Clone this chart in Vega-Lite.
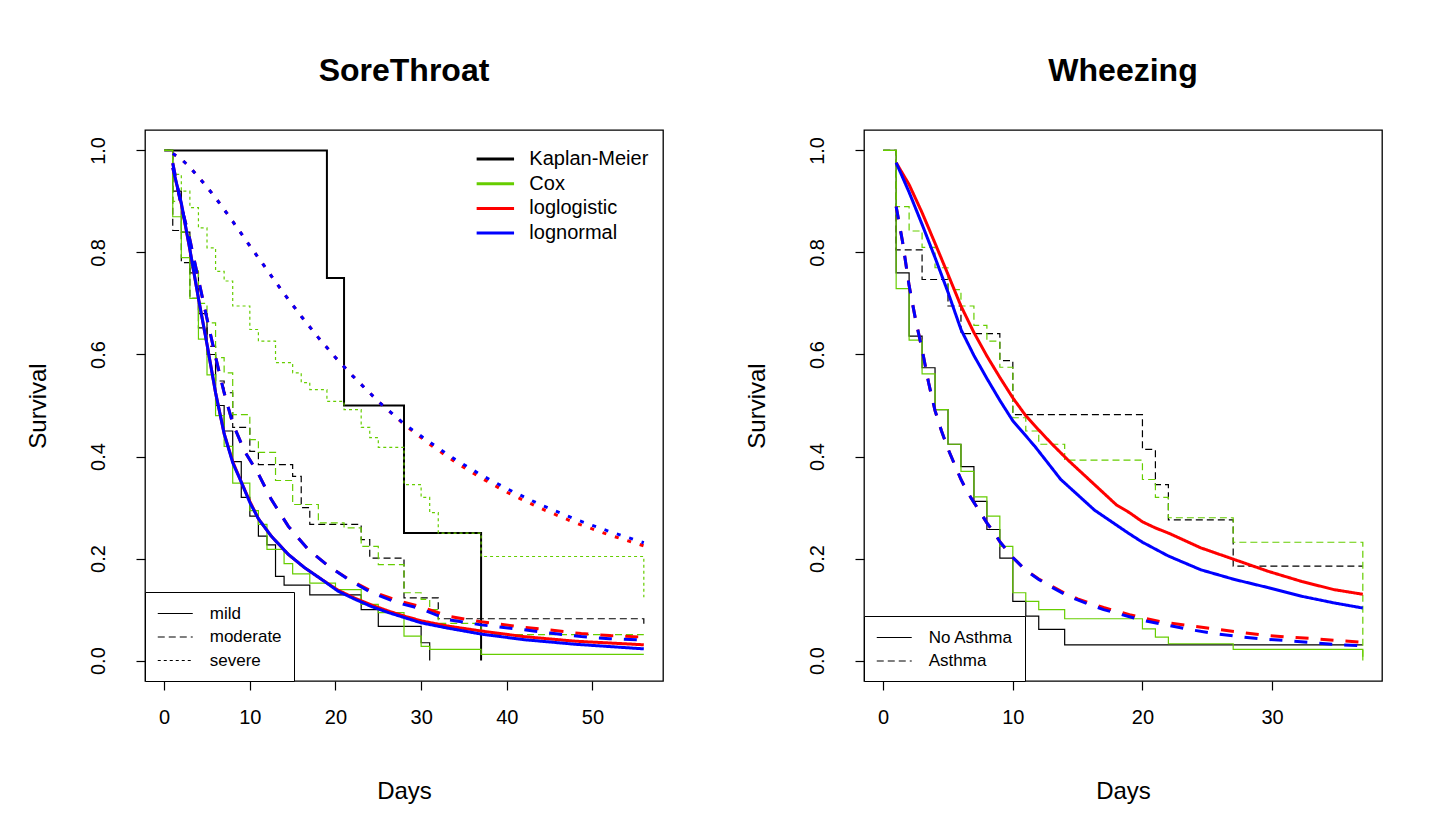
{
  "$schema": "https://vega.github.io/schema/vega-lite/v6.json",
  "autosize": {"type": "none"},
  "padding": {"left": 145, "top": 130, "right": 1298, "bottom": 708},
  "background": "white",
  "config": {
    "font": "Liberation Sans",
    "view": {"stroke": "black", "strokeWidth": 1.3},
    "axis": {"grid": false, "domain": false, "tickColor": "black", "tickSize": 9, "tickWidth": 1.2, "labelColor": "black", "labelFontSize": 20, "titleColor": "black", "titleFontSize": 24, "titleFontWeight": "normal", "labelFont": "Liberation Sans", "titleFont": "Liberation Sans", "labelOverlap": false, "labelFlush": false},
    "title": {"fontSize": 32, "fontWeight": "bold", "color": "black", "font": "Liberation Sans", "offset": 42, "baseline": "alphabetic", "anchor": "middle"},
    "legend": {"labelColor": "black", "labelFont": "Liberation Sans"}
  },
  "datasets": {
    "sore_steps": [
      {"model":"Kaplan-Meier","group":"mild","day":0,"surv":1},{"model":"Kaplan-Meier","group":"mild","day":1,"surv":0.92},{"model":"Kaplan-Meier","group":"mild","day":2,"surv":0.84},{"model":"Kaplan-Meier","group":"mild","day":3,"surv":0.76},{"model":"Kaplan-Meier","group":"mild","day":4,"surv":0.68},{"model":"Kaplan-Meier","group":"mild","day":5,"surv":0.6},{"model":"Kaplan-Meier","group":"mild","day":6,"surv":0.5},{"model":"Kaplan-Meier","group":"mild","day":7,"surv":0.45},{"model":"Kaplan-Meier","group":"mild","day":8,"surv":0.39},{"model":"Kaplan-Meier","group":"mild","day":9,"surv":0.32},{"model":"Kaplan-Meier","group":"mild","day":10,"surv":0.283},{"model":"Kaplan-Meier","group":"mild","day":11,"surv":0.244},{"model":"Kaplan-Meier","group":"mild","day":12,"surv":0.227},{"model":"Kaplan-Meier","group":"mild","day":13,"surv":0.165},{"model":"Kaplan-Meier","group":"mild","day":14,"surv":0.148},{"model":"Kaplan-Meier","group":"mild","day":17,"surv":0.129},{"model":"Kaplan-Meier","group":"mild","day":23,"surv":0.1},{"model":"Kaplan-Meier","group":"mild","day":25,"surv":0.067},{"model":"Kaplan-Meier","group":"mild","day":30,"surv":0.035},{"model":"Kaplan-Meier","group":"mild","day":31,"surv":0},
      {"model":"Kaplan-Meier","group":"moderate","day":0,"surv":1},{"model":"Kaplan-Meier","group":"moderate","day":1,"surv":0.843},{"model":"Kaplan-Meier","group":"moderate","day":2,"surv":0.78},{"model":"Kaplan-Meier","group":"moderate","day":3,"surv":0.71},{"model":"Kaplan-Meier","group":"moderate","day":4,"surv":0.652},{"model":"Kaplan-Meier","group":"moderate","day":5,"surv":0.616},{"model":"Kaplan-Meier","group":"moderate","day":6,"surv":0.548},{"model":"Kaplan-Meier","group":"moderate","day":7,"surv":0.525},{"model":"Kaplan-Meier","group":"moderate","day":8,"surv":0.457},{"model":"Kaplan-Meier","group":"moderate","day":10,"surv":0.41},{"model":"Kaplan-Meier","group":"moderate","day":11,"surv":0.384},{"model":"Kaplan-Meier","group":"moderate","day":15,"surv":0.361},{"model":"Kaplan-Meier","group":"moderate","day":16,"surv":0.3},{"model":"Kaplan-Meier","group":"moderate","day":17,"surv":0.267},{"model":"Kaplan-Meier","group":"moderate","day":23,"surv":0.237},{"model":"Kaplan-Meier","group":"moderate","day":24,"surv":0.201},{"model":"Kaplan-Meier","group":"moderate","day":28,"surv":0.123},{"model":"Kaplan-Meier","group":"moderate","day":32,"surv":0.082},{"model":"Kaplan-Meier","group":"moderate","day":56,"surv":0.065},
      {"model":"Kaplan-Meier","group":"severe","day":0,"surv":1},{"model":"Kaplan-Meier","group":"severe","day":19,"surv":0.75},{"model":"Kaplan-Meier","group":"severe","day":21,"surv":0.5},{"model":"Kaplan-Meier","group":"severe","day":28,"surv":0.25},{"model":"Kaplan-Meier","group":"severe","day":37,"surv":0},
      {"model":"Cox","group":"mild","day":0,"surv":1},{"model":"Cox","group":"mild","day":1,"surv":0.87},{"model":"Cox","group":"mild","day":2,"surv":0.79},{"model":"Cox","group":"mild","day":3,"surv":0.71},{"model":"Cox","group":"mild","day":4,"surv":0.63},{"model":"Cox","group":"mild","day":5,"surv":0.56},{"model":"Cox","group":"mild","day":6,"surv":0.48},{"model":"Cox","group":"mild","day":7,"surv":0.42},{"model":"Cox","group":"mild","day":8,"surv":0.348},{"model":"Cox","group":"mild","day":10,"surv":0.294},{"model":"Cox","group":"mild","day":11,"surv":0.267},{"model":"Cox","group":"mild","day":12,"surv":0.218},{"model":"Cox","group":"mild","day":14,"surv":0.19},{"model":"Cox","group":"mild","day":15,"surv":0.17},{"model":"Cox","group":"mild","day":17,"surv":0.152},{"model":"Cox","group":"mild","day":20,"surv":0.139},{"model":"Cox","group":"mild","day":23,"surv":0.11},{"model":"Cox","group":"mild","day":25,"surv":0.094},{"model":"Cox","group":"mild","day":28,"surv":0.048},{"model":"Cox","group":"mild","day":30,"surv":0.028},{"model":"Cox","group":"mild","day":31,"surv":0.022},{"model":"Cox","group":"mild","day":37,"surv":0.012},{"model":"Cox","group":"mild","day":56,"surv":0.012},
      {"model":"Cox","group":"moderate","day":0,"surv":1},{"model":"Cox","group":"moderate","day":1,"surv":0.9},{"model":"Cox","group":"moderate","day":2,"surv":0.84},{"model":"Cox","group":"moderate","day":3,"surv":0.77},{"model":"Cox","group":"moderate","day":4,"surv":0.7},{"model":"Cox","group":"moderate","day":5,"surv":0.662},{"model":"Cox","group":"moderate","day":6,"surv":0.594},{"model":"Cox","group":"moderate","day":7,"surv":0.564},{"model":"Cox","group":"moderate","day":8,"surv":0.482},{"model":"Cox","group":"moderate","day":10,"surv":0.433},{"model":"Cox","group":"moderate","day":11,"surv":0.408},{"model":"Cox","group":"moderate","day":13,"surv":0.353},{"model":"Cox","group":"moderate","day":15,"surv":0.306},{"model":"Cox","group":"moderate","day":18,"surv":0.27},{"model":"Cox","group":"moderate","day":21,"surv":0.26},{"model":"Cox","group":"moderate","day":23,"surv":0.224},{"model":"Cox","group":"moderate","day":25,"surv":0.188},{"model":"Cox","group":"moderate","day":28,"surv":0.133},{"model":"Cox","group":"moderate","day":30,"surv":0.12},{"model":"Cox","group":"moderate","day":31,"surv":0.1},{"model":"Cox","group":"moderate","day":32,"surv":0.073},{"model":"Cox","group":"moderate","day":37,"surv":0.051},{"model":"Cox","group":"moderate","day":56,"surv":0.051},
      {"model":"Cox","group":"severe","day":0,"surv":1},{"model":"Cox","group":"severe","day":1,"surv":0.953},{"model":"Cox","group":"severe","day":2,"surv":0.92},{"model":"Cox","group":"severe","day":3,"surv":0.888},{"model":"Cox","group":"severe","day":4,"surv":0.848},{"model":"Cox","group":"severe","day":5,"surv":0.809},{"model":"Cox","group":"severe","day":6,"surv":0.763},{"model":"Cox","group":"severe","day":7,"surv":0.744},{"model":"Cox","group":"severe","day":8,"surv":0.695},{"model":"Cox","group":"severe","day":10,"surv":0.649},{"model":"Cox","group":"severe","day":11,"surv":0.626},{"model":"Cox","group":"severe","day":13,"surv":0.584},{"model":"Cox","group":"severe","day":15,"surv":0.564},{"model":"Cox","group":"severe","day":16,"surv":0.545},{"model":"Cox","group":"severe","day":17,"surv":0.531},{"model":"Cox","group":"severe","day":19,"surv":0.508},{"model":"Cox","group":"severe","day":21,"surv":0.492},{"model":"Cox","group":"severe","day":23,"surv":0.457},{"model":"Cox","group":"severe","day":24,"surv":0.437},{"model":"Cox","group":"severe","day":25,"surv":0.418},{"model":"Cox","group":"severe","day":28,"surv":0.345},{"model":"Cox","group":"severe","day":30,"surv":0.32},{"model":"Cox","group":"severe","day":31,"surv":0.29},{"model":"Cox","group":"severe","day":32,"surv":0.25},{"model":"Cox","group":"severe","day":37,"surv":0.204},{"model":"Cox","group":"severe","day":56,"surv":0.124}
    ],
    "sore_fits": [
      {"model":"loglogistic","group":"mild","day":1,"surv":0.966},{"model":"loglogistic","group":"mild","day":2,"surv":0.895},{"model":"loglogistic","group":"mild","day":3,"surv":0.805},{"model":"loglogistic","group":"mild","day":4,"surv":0.71},{"model":"loglogistic","group":"mild","day":5,"surv":0.62},{"model":"loglogistic","group":"mild","day":6,"surv":0.525},{"model":"loglogistic","group":"mild","day":7,"surv":0.445},{"model":"loglogistic","group":"mild","day":8,"surv":0.39},{"model":"loglogistic","group":"mild","day":9,"surv":0.35},{"model":"loglogistic","group":"mild","day":10,"surv":0.312},{"model":"loglogistic","group":"mild","day":11,"surv":0.278},{"model":"loglogistic","group":"mild","day":12.5,"surv":0.244},{"model":"loglogistic","group":"mild","day":14.5,"surv":0.208},{"model":"loglogistic","group":"mild","day":16.4,"surv":0.182},{"model":"loglogistic","group":"mild","day":18.4,"surv":0.159},{"model":"loglogistic","group":"mild","day":20.3,"surv":0.138},{"model":"loglogistic","group":"mild","day":22.3,"surv":0.122},{"model":"loglogistic","group":"mild","day":24.2,"surv":0.109},{"model":"loglogistic","group":"mild","day":26.2,"surv":0.097},{"model":"loglogistic","group":"mild","day":28.1,"surv":0.087},{"model":"loglogistic","group":"mild","day":30,"surv":0.078},{"model":"loglogistic","group":"mild","day":33,"surv":0.068},{"model":"loglogistic","group":"mild","day":37,"surv":0.058},{"model":"loglogistic","group":"mild","day":42,"surv":0.047},{"model":"loglogistic","group":"mild","day":48,"surv":0.038},{"model":"loglogistic","group":"mild","day":56,"surv":0.031},
      {"model":"loglogistic","group":"moderate","day":1,"surv":0.975},{"model":"loglogistic","group":"moderate","day":2,"surv":0.89},{"model":"loglogistic","group":"moderate","day":3,"surv":0.825},{"model":"loglogistic","group":"moderate","day":4,"surv":0.747},{"model":"loglogistic","group":"moderate","day":5,"surv":0.67},{"model":"loglogistic","group":"moderate","day":6,"surv":0.595},{"model":"loglogistic","group":"moderate","day":7,"surv":0.525},{"model":"loglogistic","group":"moderate","day":8,"surv":0.465},{"model":"loglogistic","group":"moderate","day":9.4,"surv":0.41},{"model":"loglogistic","group":"moderate","day":11,"surv":0.366},{"model":"loglogistic","group":"moderate","day":12.5,"surv":0.316},{"model":"loglogistic","group":"moderate","day":14.5,"surv":0.263},{"model":"loglogistic","group":"moderate","day":16.8,"surv":0.218},{"model":"loglogistic","group":"moderate","day":19.2,"surv":0.185},{"model":"loglogistic","group":"moderate","day":21.5,"surv":0.16},{"model":"loglogistic","group":"moderate","day":24.2,"surv":0.136},{"model":"loglogistic","group":"moderate","day":27.3,"surv":0.117},{"model":"loglogistic","group":"moderate","day":29.7,"surv":0.107},{"model":"loglogistic","group":"moderate","day":33.2,"surv":0.087},{"model":"loglogistic","group":"moderate","day":37,"surv":0.076},{"model":"loglogistic","group":"moderate","day":41.7,"surv":0.066},{"model":"loglogistic","group":"moderate","day":45,"surv":0.06},{"model":"loglogistic","group":"moderate","day":48.7,"surv":0.053},{"model":"loglogistic","group":"moderate","day":52,"surv":0.049},{"model":"loglogistic","group":"moderate","day":56,"surv":0.046},
      {"model":"loglogistic","group":"severe","day":1,"surv":0.994},{"model":"loglogistic","group":"severe","day":2,"surv":0.983},{"model":"loglogistic","group":"severe","day":3,"surv":0.967},{"model":"loglogistic","group":"severe","day":4,"surv":0.948},{"model":"loglogistic","group":"severe","day":5,"surv":0.928},{"model":"loglogistic","group":"severe","day":6,"surv":0.907},{"model":"loglogistic","group":"severe","day":8,"surv":0.861},{"model":"loglogistic","group":"severe","day":10,"surv":0.813},{"model":"loglogistic","group":"severe","day":12,"surv":0.766},{"model":"loglogistic","group":"severe","day":14,"surv":0.719},{"model":"loglogistic","group":"severe","day":16,"surv":0.675},{"model":"loglogistic","group":"severe","day":18,"surv":0.633},{"model":"loglogistic","group":"severe","day":20,"surv":0.594},{"model":"loglogistic","group":"severe","day":22,"surv":0.558},{"model":"loglogistic","group":"severe","day":25,"surv":0.508},{"model":"loglogistic","group":"severe","day":28,"surv":0.463},{"model":"loglogistic","group":"severe","day":31,"surv":0.424},{"model":"loglogistic","group":"severe","day":34,"surv":0.389},{"model":"loglogistic","group":"severe","day":37,"surv":0.358},{"model":"loglogistic","group":"severe","day":40,"surv":0.33},{"model":"loglogistic","group":"severe","day":44,"surv":0.298},{"model":"loglogistic","group":"severe","day":48,"surv":0.27},{"model":"loglogistic","group":"severe","day":52,"surv":0.246},{"model":"loglogistic","group":"severe","day":56,"surv":0.225},
      {"model":"lognormal","group":"mild","day":1,"surv":0.966},{"model":"lognormal","group":"mild","day":2,"surv":0.897},{"model":"lognormal","group":"mild","day":3,"surv":0.806},{"model":"lognormal","group":"mild","day":4,"surv":0.71},{"model":"lognormal","group":"mild","day":5,"surv":0.62},{"model":"lognormal","group":"mild","day":6,"surv":0.525},{"model":"lognormal","group":"mild","day":7,"surv":0.445},{"model":"lognormal","group":"mild","day":8,"surv":0.388},{"model":"lognormal","group":"mild","day":9,"surv":0.35},{"model":"lognormal","group":"mild","day":10,"surv":0.31},{"model":"lognormal","group":"mild","day":11,"surv":0.278},{"model":"lognormal","group":"mild","day":12.5,"surv":0.244},{"model":"lognormal","group":"mild","day":14.5,"surv":0.208},{"model":"lognormal","group":"mild","day":16.4,"surv":0.182},{"model":"lognormal","group":"mild","day":18.4,"surv":0.159},{"model":"lognormal","group":"mild","day":20.3,"surv":0.136},{"model":"lognormal","group":"mild","day":22.3,"surv":0.12},{"model":"lognormal","group":"mild","day":24.2,"surv":0.106},{"model":"lognormal","group":"mild","day":26.2,"surv":0.094},{"model":"lognormal","group":"mild","day":28.1,"surv":0.084},{"model":"lognormal","group":"mild","day":30,"surv":0.074},{"model":"lognormal","group":"mild","day":33,"surv":0.064},{"model":"lognormal","group":"mild","day":37,"surv":0.052},{"model":"lognormal","group":"mild","day":42,"surv":0.041},{"model":"lognormal","group":"mild","day":48,"surv":0.032},{"model":"lognormal","group":"mild","day":56,"surv":0.023},
      {"model":"lognormal","group":"moderate","day":1,"surv":0.975},{"model":"lognormal","group":"moderate","day":2,"surv":0.89},{"model":"lognormal","group":"moderate","day":3,"surv":0.825},{"model":"lognormal","group":"moderate","day":4,"surv":0.747},{"model":"lognormal","group":"moderate","day":5,"surv":0.67},{"model":"lognormal","group":"moderate","day":6,"surv":0.595},{"model":"lognormal","group":"moderate","day":7,"surv":0.525},{"model":"lognormal","group":"moderate","day":8,"surv":0.465},{"model":"lognormal","group":"moderate","day":9.4,"surv":0.41},{"model":"lognormal","group":"moderate","day":11,"surv":0.366},{"model":"lognormal","group":"moderate","day":12.5,"surv":0.316},{"model":"lognormal","group":"moderate","day":14.5,"surv":0.263},{"model":"lognormal","group":"moderate","day":16.8,"surv":0.218},{"model":"lognormal","group":"moderate","day":19.2,"surv":0.185},{"model":"lognormal","group":"moderate","day":21.5,"surv":0.159},{"model":"lognormal","group":"moderate","day":24.2,"surv":0.133},{"model":"lognormal","group":"moderate","day":27.3,"surv":0.113},{"model":"lognormal","group":"moderate","day":29.7,"surv":0.103},{"model":"lognormal","group":"moderate","day":33.2,"surv":0.08},{"model":"lognormal","group":"moderate","day":37,"surv":0.07},{"model":"lognormal","group":"moderate","day":41.7,"surv":0.061},{"model":"lognormal","group":"moderate","day":45,"surv":0.054},{"model":"lognormal","group":"moderate","day":48.7,"surv":0.047},{"model":"lognormal","group":"moderate","day":52,"surv":0.043},{"model":"lognormal","group":"moderate","day":56,"surv":0.04},
      {"model":"lognormal","group":"severe","day":1,"surv":0.994},{"model":"lognormal","group":"severe","day":2,"surv":0.983},{"model":"lognormal","group":"severe","day":3,"surv":0.967},{"model":"lognormal","group":"severe","day":4,"surv":0.948},{"model":"lognormal","group":"severe","day":5,"surv":0.928},{"model":"lognormal","group":"severe","day":6,"surv":0.907},{"model":"lognormal","group":"severe","day":8,"surv":0.861},{"model":"lognormal","group":"severe","day":10,"surv":0.813},{"model":"lognormal","group":"severe","day":12,"surv":0.766},{"model":"lognormal","group":"severe","day":14,"surv":0.719},{"model":"lognormal","group":"severe","day":16,"surv":0.675},{"model":"lognormal","group":"severe","day":18,"surv":0.633},{"model":"lognormal","group":"severe","day":20,"surv":0.594},{"model":"lognormal","group":"severe","day":22,"surv":0.558},{"model":"lognormal","group":"severe","day":25,"surv":0.508},{"model":"lognormal","group":"severe","day":28,"surv":0.464},{"model":"lognormal","group":"severe","day":31,"surv":0.428},{"model":"lognormal","group":"severe","day":34,"surv":0.394},{"model":"lognormal","group":"severe","day":37,"surv":0.364},{"model":"lognormal","group":"severe","day":40,"surv":0.337},{"model":"lognormal","group":"severe","day":44,"surv":0.305},{"model":"lognormal","group":"severe","day":48,"surv":0.277},{"model":"lognormal","group":"severe","day":52,"surv":0.253},{"model":"lognormal","group":"severe","day":56,"surv":0.231}
    ],
    "wheeze_steps": [
      {"model":"Kaplan-Meier","group":"No Asthma","day":0,"surv":1},{"model":"Kaplan-Meier","group":"No Asthma","day":1,"surv":0.76},{"model":"Kaplan-Meier","group":"No Asthma","day":2,"surv":0.636},{"model":"Kaplan-Meier","group":"No Asthma","day":3,"surv":0.574},{"model":"Kaplan-Meier","group":"No Asthma","day":4,"surv":0.492},{"model":"Kaplan-Meier","group":"No Asthma","day":5,"surv":0.424},{"model":"Kaplan-Meier","group":"No Asthma","day":6,"surv":0.38},{"model":"Kaplan-Meier","group":"No Asthma","day":7,"surv":0.312},{"model":"Kaplan-Meier","group":"No Asthma","day":8,"surv":0.257},{"model":"Kaplan-Meier","group":"No Asthma","day":9,"surv":0.201},{"model":"Kaplan-Meier","group":"No Asthma","day":10,"surv":0.116},{"model":"Kaplan-Meier","group":"No Asthma","day":11,"surv":0.087},{"model":"Kaplan-Meier","group":"No Asthma","day":12,"surv":0.061},{"model":"Kaplan-Meier","group":"No Asthma","day":14,"surv":0.031},{"model":"Kaplan-Meier","group":"No Asthma","day":37,"surv":0.031},
      {"model":"Kaplan-Meier","group":"Asthma","day":0,"surv":1},{"model":"Kaplan-Meier","group":"Asthma","day":1,"surv":0.805},{"model":"Kaplan-Meier","group":"Asthma","day":3,"surv":0.747},{"model":"Kaplan-Meier","group":"Asthma","day":5,"surv":0.695},{"model":"Kaplan-Meier","group":"Asthma","day":6,"surv":0.641},{"model":"Kaplan-Meier","group":"Asthma","day":9,"surv":0.588},{"model":"Kaplan-Meier","group":"Asthma","day":10,"surv":0.482},{"model":"Kaplan-Meier","group":"Asthma","day":20,"surv":0.414},{"model":"Kaplan-Meier","group":"Asthma","day":21,"surv":0.345},{"model":"Kaplan-Meier","group":"Asthma","day":22,"surv":0.276},{"model":"Kaplan-Meier","group":"Asthma","day":27,"surv":0.185},{"model":"Kaplan-Meier","group":"Asthma","day":37,"surv":0.185},
      {"model":"Cox","group":"No Asthma","day":0,"surv":1},{"model":"Cox","group":"No Asthma","day":1,"surv":0.729},{"model":"Cox","group":"No Asthma","day":2,"surv":0.628},{"model":"Cox","group":"No Asthma","day":3,"surv":0.562},{"model":"Cox","group":"No Asthma","day":4,"surv":0.492},{"model":"Cox","group":"No Asthma","day":5,"surv":0.424},{"model":"Cox","group":"No Asthma","day":6,"surv":0.371},{"model":"Cox","group":"No Asthma","day":7,"surv":0.321},{"model":"Cox","group":"No Asthma","day":8,"surv":0.283},{"model":"Cox","group":"No Asthma","day":9,"surv":0.224},{"model":"Cox","group":"No Asthma","day":10,"surv":0.133},{"model":"Cox","group":"No Asthma","day":11,"surv":0.116},{"model":"Cox","group":"No Asthma","day":12,"surv":0.1},{"model":"Cox","group":"No Asthma","day":14,"surv":0.082},{"model":"Cox","group":"No Asthma","day":20,"surv":0.062},{"model":"Cox","group":"No Asthma","day":21,"surv":0.046},{"model":"Cox","group":"No Asthma","day":22,"surv":0.033},{"model":"Cox","group":"No Asthma","day":27,"surv":0.022},{"model":"Cox","group":"No Asthma","day":37,"surv":0},
      {"model":"Cox","group":"Asthma","day":0,"surv":1},{"model":"Cox","group":"Asthma","day":1,"surv":0.89},{"model":"Cox","group":"Asthma","day":2,"surv":0.842},{"model":"Cox","group":"Asthma","day":3,"surv":0.81},{"model":"Cox","group":"Asthma","day":4,"surv":0.77},{"model":"Cox","group":"Asthma","day":5,"surv":0.727},{"model":"Cox","group":"Asthma","day":6,"surv":0.695},{"model":"Cox","group":"Asthma","day":7,"surv":0.657},{"model":"Cox","group":"Asthma","day":8,"surv":0.626},{"model":"Cox","group":"Asthma","day":9,"surv":0.575},{"model":"Cox","group":"Asthma","day":10,"surv":0.476},{"model":"Cox","group":"Asthma","day":11,"surv":0.45},{"model":"Cox","group":"Asthma","day":12,"surv":0.424},{"model":"Cox","group":"Asthma","day":14,"surv":0.393},{"model":"Cox","group":"Asthma","day":20,"surv":0.355},{"model":"Cox","group":"Asthma","day":21,"surv":0.32},{"model":"Cox","group":"Asthma","day":22,"surv":0.28},{"model":"Cox","group":"Asthma","day":27,"surv":0.232},{"model":"Cox","group":"Asthma","day":37,"surv":0}
    ],
    "wheeze_fits": [
      {"model":"loglogistic","group":"No Asthma","day":1,"surv":0.976},{"model":"loglogistic","group":"No Asthma","day":2,"surv":0.933},{"model":"loglogistic","group":"No Asthma","day":3,"surv":0.878},{"model":"loglogistic","group":"No Asthma","day":4,"surv":0.818},{"model":"loglogistic","group":"No Asthma","day":5,"surv":0.757},{"model":"loglogistic","group":"No Asthma","day":6,"surv":0.695},{"model":"loglogistic","group":"No Asthma","day":7,"surv":0.643},{"model":"loglogistic","group":"No Asthma","day":8,"surv":0.597},{"model":"loglogistic","group":"No Asthma","day":9,"surv":0.555},{"model":"loglogistic","group":"No Asthma","day":10,"surv":0.515},{"model":"loglogistic","group":"No Asthma","day":11,"surv":0.48},{"model":"loglogistic","group":"No Asthma","day":12,"surv":0.452},{"model":"loglogistic","group":"No Asthma","day":13,"surv":0.425},{"model":"loglogistic","group":"No Asthma","day":14.3,"surv":0.392},{"model":"loglogistic","group":"No Asthma","day":16.3,"surv":0.345},{"model":"loglogistic","group":"No Asthma","day":18,"surv":0.305},{"model":"loglogistic","group":"No Asthma","day":19,"surv":0.29},{"model":"loglogistic","group":"No Asthma","day":20,"surv":0.272},{"model":"loglogistic","group":"No Asthma","day":21,"surv":0.26},{"model":"loglogistic","group":"No Asthma","day":22,"surv":0.25},{"model":"loglogistic","group":"No Asthma","day":24.5,"surv":0.221},{"model":"loglogistic","group":"No Asthma","day":27.1,"surv":0.198},{"model":"loglogistic","group":"No Asthma","day":29.7,"surv":0.175},{"model":"loglogistic","group":"No Asthma","day":32.3,"surv":0.155},{"model":"loglogistic","group":"No Asthma","day":34.8,"surv":0.139},{"model":"loglogistic","group":"No Asthma","day":37,"surv":0.13},
      {"model":"loglogistic","group":"Asthma","day":1,"surv":0.89},{"model":"loglogistic","group":"Asthma","day":1.5,"surv":0.82},{"model":"loglogistic","group":"Asthma","day":2,"surv":0.735},{"model":"loglogistic","group":"Asthma","day":2.5,"surv":0.668},{"model":"loglogistic","group":"Asthma","day":3,"surv":0.61},{"model":"loglogistic","group":"Asthma","day":3.5,"surv":0.545},{"model":"loglogistic","group":"Asthma","day":4,"surv":0.49},{"model":"loglogistic","group":"Asthma","day":4.5,"surv":0.45},{"model":"loglogistic","group":"Asthma","day":5,"surv":0.415},{"model":"loglogistic","group":"Asthma","day":5.5,"surv":0.385},{"model":"loglogistic","group":"Asthma","day":6,"surv":0.355},{"model":"loglogistic","group":"Asthma","day":6.5,"surv":0.33},{"model":"loglogistic","group":"Asthma","day":7,"surv":0.31},{"model":"loglogistic","group":"Asthma","day":7.5,"surv":0.29},{"model":"loglogistic","group":"Asthma","day":8,"surv":0.27},{"model":"loglogistic","group":"Asthma","day":8.7,"surv":0.245},{"model":"loglogistic","group":"Asthma","day":9,"surv":0.233},{"model":"loglogistic","group":"Asthma","day":10,"surv":0.202},{"model":"loglogistic","group":"Asthma","day":11,"surv":0.177},{"model":"loglogistic","group":"Asthma","day":12,"surv":0.16},{"model":"loglogistic","group":"Asthma","day":13,"surv":0.146},{"model":"loglogistic","group":"Asthma","day":14,"surv":0.132},{"model":"loglogistic","group":"Asthma","day":15,"surv":0.121},{"model":"loglogistic","group":"Asthma","day":16,"surv":0.112},{"model":"loglogistic","group":"Asthma","day":17,"surv":0.104},{"model":"loglogistic","group":"Asthma","day":18,"surv":0.097},{"model":"loglogistic","group":"Asthma","day":19,"surv":0.09},{"model":"loglogistic","group":"Asthma","day":20,"surv":0.084},{"model":"loglogistic","group":"Asthma","day":21.4,"surv":0.076},{"model":"loglogistic","group":"Asthma","day":23.4,"surv":0.069},{"model":"loglogistic","group":"Asthma","day":25.3,"surv":0.063},{"model":"loglogistic","group":"Asthma","day":27.4,"surv":0.056},{"model":"loglogistic","group":"Asthma","day":29.3,"surv":0.05},{"model":"loglogistic","group":"Asthma","day":31.3,"surv":0.046},{"model":"loglogistic","group":"Asthma","day":33.2,"surv":0.043},{"model":"loglogistic","group":"Asthma","day":35.2,"surv":0.039},{"model":"loglogistic","group":"Asthma","day":37,"surv":0.036},
      {"model":"lognormal","group":"No Asthma","day":1,"surv":0.976},{"model":"lognormal","group":"No Asthma","day":2,"surv":0.918},{"model":"lognormal","group":"No Asthma","day":3,"surv":0.855},{"model":"lognormal","group":"No Asthma","day":4,"surv":0.79},{"model":"lognormal","group":"No Asthma","day":5,"surv":0.722},{"model":"lognormal","group":"No Asthma","day":6,"surv":0.649},{"model":"lognormal","group":"No Asthma","day":7,"surv":0.598},{"model":"lognormal","group":"No Asthma","day":8,"surv":0.553},{"model":"lognormal","group":"No Asthma","day":9,"surv":0.51},{"model":"lognormal","group":"No Asthma","day":10,"surv":0.47},{"model":"lognormal","group":"No Asthma","day":11.7,"surv":0.42},{"model":"lognormal","group":"No Asthma","day":13.7,"surv":0.355},{"model":"lognormal","group":"No Asthma","day":16.3,"surv":0.295},{"model":"lognormal","group":"No Asthma","day":18.9,"surv":0.25},{"model":"lognormal","group":"No Asthma","day":20,"surv":0.232},{"model":"lognormal","group":"No Asthma","day":22,"surv":0.205},{"model":"lognormal","group":"No Asthma","day":24.5,"surv":0.178},{"model":"lognormal","group":"No Asthma","day":27.1,"surv":0.159},{"model":"lognormal","group":"No Asthma","day":29.7,"surv":0.143},{"model":"lognormal","group":"No Asthma","day":32.3,"surv":0.126},{"model":"lognormal","group":"No Asthma","day":34.8,"surv":0.113},{"model":"lognormal","group":"No Asthma","day":37,"surv":0.103},
      {"model":"lognormal","group":"Asthma","day":1,"surv":0.89},{"model":"lognormal","group":"Asthma","day":1.5,"surv":0.82},{"model":"lognormal","group":"Asthma","day":2,"surv":0.735},{"model":"lognormal","group":"Asthma","day":2.5,"surv":0.668},{"model":"lognormal","group":"Asthma","day":3,"surv":0.61},{"model":"lognormal","group":"Asthma","day":3.5,"surv":0.545},{"model":"lognormal","group":"Asthma","day":4,"surv":0.49},{"model":"lognormal","group":"Asthma","day":4.5,"surv":0.45},{"model":"lognormal","group":"Asthma","day":5,"surv":0.415},{"model":"lognormal","group":"Asthma","day":5.5,"surv":0.385},{"model":"lognormal","group":"Asthma","day":6,"surv":0.355},{"model":"lognormal","group":"Asthma","day":6.5,"surv":0.33},{"model":"lognormal","group":"Asthma","day":7,"surv":0.31},{"model":"lognormal","group":"Asthma","day":7.5,"surv":0.29},{"model":"lognormal","group":"Asthma","day":8,"surv":0.27},{"model":"lognormal","group":"Asthma","day":8.7,"surv":0.245},{"model":"lognormal","group":"Asthma","day":9,"surv":0.233},{"model":"lognormal","group":"Asthma","day":10,"surv":0.202},{"model":"lognormal","group":"Asthma","day":11,"surv":0.177},{"model":"lognormal","group":"Asthma","day":12,"surv":0.159},{"model":"lognormal","group":"Asthma","day":13,"surv":0.144},{"model":"lognormal","group":"Asthma","day":14,"surv":0.13},{"model":"lognormal","group":"Asthma","day":15,"surv":0.119},{"model":"lognormal","group":"Asthma","day":16,"surv":0.109},{"model":"lognormal","group":"Asthma","day":17,"surv":0.1},{"model":"lognormal","group":"Asthma","day":18,"surv":0.093},{"model":"lognormal","group":"Asthma","day":19,"surv":0.086},{"model":"lognormal","group":"Asthma","day":20,"surv":0.079},{"model":"lognormal","group":"Asthma","day":21.4,"surv":0.072},{"model":"lognormal","group":"Asthma","day":23.4,"surv":0.062},{"model":"lognormal","group":"Asthma","day":25.3,"surv":0.054},{"model":"lognormal","group":"Asthma","day":27.4,"surv":0.047},{"model":"lognormal","group":"Asthma","day":29.3,"surv":0.042},{"model":"lognormal","group":"Asthma","day":31.3,"surv":0.039},{"model":"lognormal","group":"Asthma","day":33.2,"surv":0.035},{"model":"lognormal","group":"Asthma","day":35.2,"surv":0.031},{"model":"lognormal","group":"Asthma","day":37,"surv":0.029}
    ]
  },
  "hconcat": [
    {
      "width": 518,
      "height": 551,
      "title": {"text": "SoreThroat"},
      "layer": [
        {
          "data": {"name": "sore_steps"},
          "mark": {"type": "line", "interpolate": "step-after", "strokeCap": "butt"},
          "encoding": {
            "x": {"field": "day", "type": "quantitative", "scale": {"domain": [-2.24, 58.24], "nice": false, "zero": false}, "axis": {"values": [0, 10, 20, 30, 40, 50], "title": "Days", "labelPadding": 17, "titlePadding": 52}},
            "y": {"field": "surv", "type": "quantitative", "scale": {"domain": [-0.04, 1.04], "nice": false, "zero": false}, "axis": {"values": [0, 0.2, 0.4, 0.6, 0.8, 1], "format": ".1f", "title": "Survival", "labelAngle": 270, "labelAlign": "center", "labelBaseline": "alphabetic", "labelPadding": 32, "titlePadding": 38}},
            "color": {"field": "model", "type": "nominal", "scale": {"domain": ["Kaplan-Meier", "Cox", "loglogistic", "lognormal"], "range": ["black", "#66CD00", "red", "blue"]}, "legend": {"title": null, "orient": "none", "legendX": 330, "legendY": 18, "symbolType": "M-2,0H2", "symbolSize": 350, "symbolOffset": 9.35, "symbolStrokeWidth": 3, "labelFontSize": 20, "labelOffset": 23, "rowPadding": 3.7, "padding": 0, "labelLimit": 300}},
            "strokeDash": {"condition": {"test": "datum.model === 'Kaplan-Meier' && datum.group === 'severe'", "value": [1, 0]}, "field": "group", "type": "nominal", "scale": {"domain": ["mild", "moderate", "severe"], "range": [[1, 0], [7, 4], [3, 3]]}, "legend": {"title": null, "orient": "bottom-left", "offset": 0, "symbolType": "M-2,0H2", "symbolSize": 306, "symbolOffset": 8.75, "symbolStrokeWidth": 1.2, "symbolStrokeColor": "black", "labelFontSize": 17, "labelOffset": 25, "rowPadding": 5.5, "padding": 12, "strokeColor": "black", "fillColor": "white"}},
            "strokeWidth": {"condition": {"test": "datum.model === 'Kaplan-Meier' && datum.group === 'severe'", "value": 2}, "value": 1.2}
          }
        },
        {
          "data": {"name": "sore_fits"},
          "transform": [{"filter": "datum.model === 'loglogistic'"}],
          "mark": {"type": "line", "strokeWidth": 3, "strokeCap": "butt"},
          "encoding": {
            "x": {"field": "day", "type": "quantitative"},
            "y": {"field": "surv", "type": "quantitative"},
            "color": {"field": "model", "type": "nominal"},
            "strokeDash": {"field": "group", "type": "nominal", "scale": {"domain": ["mild", "moderate", "severe"], "range": [[1, 0], [13, 12], [4, 9]]}, "legend": null}
          }
        },
        {
          "data": {"name": "sore_fits"},
          "transform": [{"filter": "datum.model === 'lognormal'"}],
          "mark": {"type": "line", "strokeWidth": 3, "strokeCap": "butt"},
          "encoding": {
            "x": {"field": "day", "type": "quantitative"},
            "y": {"field": "surv", "type": "quantitative"},
            "color": {"field": "model", "type": "nominal"},
            "strokeDash": {"field": "group", "type": "nominal", "scale": {"domain": ["mild", "moderate", "severe"], "range": [[1, 0], [13, 12], [4, 9]]}, "legend": null}
          }
        }
      ],
      "resolve": {"scale": {"strokeDash": "independent"}}
    },
    {
      "width": 518,
      "height": 551,
      "title": {"text": "Wheezing"},
      "layer": [
        {
          "data": {"name": "wheeze_steps"},
          "mark": {"type": "line", "interpolate": "step-after", "strokeWidth": 1.2, "strokeCap": "butt"},
          "encoding": {
            "x": {"field": "day", "type": "quantitative", "scale": {"domain": [-1.48, 38.48], "nice": false, "zero": false}, "axis": {"values": [0, 10, 20, 30], "title": "Days", "labelPadding": 17, "titlePadding": 52}},
            "y": {"field": "surv", "type": "quantitative", "scale": {"domain": [-0.04, 1.04], "nice": false, "zero": false}, "axis": {"values": [0, 0.2, 0.4, 0.6, 0.8, 1], "format": ".1f", "title": "Survival", "labelAngle": 270, "labelAlign": "center", "labelBaseline": "alphabetic", "labelPadding": 32, "titlePadding": 38}},
            "color": {"field": "model", "type": "nominal", "scale": {"domain": ["Kaplan-Meier", "Cox", "loglogistic", "lognormal"], "range": ["black", "#66CD00", "red", "blue"]}, "legend": {"title": null, "orient": "none", "legendX": 331, "legendY": 18, "symbolType": "M-2,0H2", "symbolSize": 350, "symbolOffset": 9.35, "symbolStrokeWidth": 3, "labelFontSize": 20, "labelOffset": 23, "rowPadding": 3.7, "padding": 0, "labelLimit": 300}},
            "strokeDash": {"field": "group", "type": "nominal", "scale": {"domain": ["No Asthma", "Asthma"], "range": [[1, 0], [7, 4]]}, "legend": {"title": null, "orient": "bottom-left", "offset": 0, "symbolType": "M-2,0H2", "symbolSize": 306, "symbolOffset": 8.75, "symbolStrokeWidth": 1.2, "symbolStrokeColor": "black", "labelFontSize": 17, "labelOffset": 25, "rowPadding": 5.5, "padding": 12, "strokeColor": "black", "fillColor": "white"}}
          }
        },
        {
          "data": {"name": "wheeze_fits"},
          "transform": [{"filter": "datum.model === 'loglogistic'"}],
          "mark": {"type": "line", "strokeWidth": 3, "strokeCap": "butt"},
          "encoding": {
            "x": {"field": "day", "type": "quantitative"},
            "y": {"field": "surv", "type": "quantitative"},
            "color": {"field": "model", "type": "nominal"},
            "strokeDash": {"field": "group", "type": "nominal", "scale": {"domain": ["No Asthma", "Asthma"], "range": [[1, 0], [13, 12]]}, "legend": null}
          }
        },
        {
          "data": {"name": "wheeze_fits"},
          "transform": [{"filter": "datum.model === 'lognormal'"}],
          "mark": {"type": "line", "strokeWidth": 3, "strokeCap": "butt"},
          "encoding": {
            "x": {"field": "day", "type": "quantitative"},
            "y": {"field": "surv", "type": "quantitative"},
            "color": {"field": "model", "type": "nominal"},
            "strokeDash": {"field": "group", "type": "nominal", "scale": {"domain": ["No Asthma", "Asthma"], "range": [[1, 0], [13, 12]]}, "legend": null}
          }
        }
      ],
      "resolve": {"scale": {"strokeDash": "independent"}}
    }
  ],
  "spacing": 201,
  "bounds": "flush"
}
